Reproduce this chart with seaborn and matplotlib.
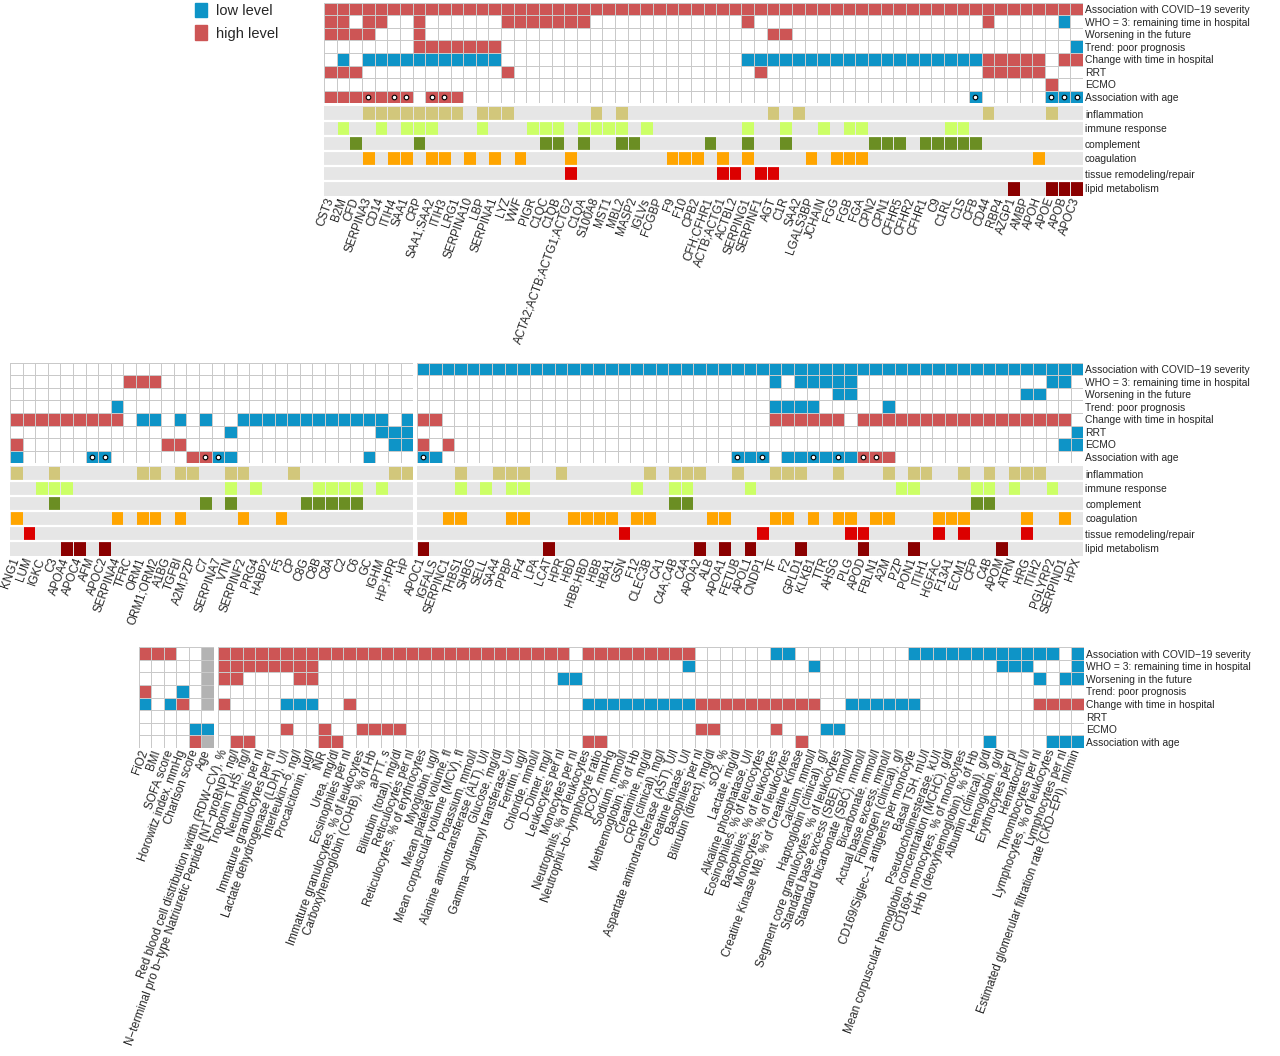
import matplotlib
matplotlib.use("Agg")
import matplotlib.pyplot as plt
import numpy as np
import pandas as pd
import seaborn as sns
from matplotlib.colors import ListedColormap
from matplotlib.patches import Patch

# colours
BLUE = "#0e94c7"
RED = "#cd5555"
NA_GREY = "#b3b3b3"
GRID = "#c9c9c9"
CAT_BG = "#e6e6e6"
CAT_COLORS = ["#d2c77b", "#ccff66", "#6b8e23", "#ffa500", "#dc0000", "#8b0000"]

ASSOC_ROWS = [
    "Association with COVID−19 severity",
    "WHO = 3: remaining time in hospital",
    "Worsening in the future",
    "Trend: poor prognosis",
    "Change with time in hospital",
    "RRT",
    "ECMO",
    "Association with age",
]
CATEGORY_ROWS = [
    "inflammation",
    "immune response",
    "complement",
    "coagulation",
    "tissue remodeling/repair",
    "lipid metabolism",
]

# cell codes: b = low level, r = high level, n = not available, . = none
CODE = {"b": -1, ".": 0, "r": 1, "n": 2}

# ---------------- panel 1 ----------------
P1_LABELS = [
    "CST3", "B2M", "CFD", "SERPINA3", "CD14", "ITIH4", "SAA1", "CRP", "SAA1;SAA2", "ITIH3",
    "LRG1", "SERPINA10", "LBP", "SERPINA1", "LYZ", "VWF", "PIGR", "C1QC", "C1QB",
    "ACTA2;ACTB;ACTG1;ACTG2", "C1QA", "S100A8", "MST1", "MBL2", "MASP2", "IGLVs", "FCGBP",
    "F9", "F10", "CPB2", "CFH;CFHR1", "ACTB;ACTG1", "ACTBL2", "SERPING1", "SERPINF1", "AGT",
    "C1R", "SAA2", "LGALS3BP", "JCHAIN", "FGG", "FGB", "FGA", "CPN2", "CPN1", "CFHR5",
    "CFHR2", "CFHR1", "C9", "C1RL", "C1S", "CFB", "CD44", "RBP4", "AZGP1", "AMBP", "APOH",
    "APOE", "APOB", "APOC3",
]
P1_ASSOC = [
    "rrrrrrrrrr" "rrrrrrrrrr" "rrrrrrrrrr" "rrrrrrrrrr" "rrrrrrrrrr" "rrrrrrrrrr",
    "rr.rr..r.." "....rrrrrr" "r........." "...r......" ".........." "..r.....b.",
    "rrrr...r.." ".........." ".........." ".....rr..." ".........." "..........",
    ".......rrr" "rrrr......" ".........." ".........." ".........." ".........b",
    ".b.bbbbbbb" "bbbb......" ".........." "...bbbbbbb" "bbbbbbbbbb" "bbrrrrr.rr",
    "rrr......." "....r....." ".........." "....r....." ".........." "..rrrrr...",
    ".........." ".........." ".........." ".........." ".........." ".......r..",
    "rrrrrrr.rr" "r........." ".........." ".........." ".........." ".b.....bbb",
]
P1_DOTS = [3, 5, 6, 8, 9, 51, 57, 58, 59]
P1_CATEGORIES = [
    [3, 4, 5, 6, 7, 8, 9, 10, 12, 13, 14, 21, 23, 35, 37, 52, 57],
    [1, 4, 6, 7, 8, 12, 16, 17, 18, 20, 21, 22, 23, 25, 33, 36, 39, 41, 42, 49, 50],
    [2, 7, 17, 18, 20, 23, 24, 30, 33, 36, 43, 44, 45, 47, 48, 49, 50, 51],
    [3, 5, 6, 8, 9, 11, 13, 15, 19, 27, 28, 29, 31, 33, 38, 40, 41, 42, 56],
    [19, 31, 32, 34, 35],
    [54, 57, 58, 59],
]

# ---------------- panel 2 ----------------
P2L_LABELS = [
    "KNG1", "LUM", "IGKC", "C3", "APOA4", "APOC4", "AFM", "APOC2", "SERPINA4", "TFRC",
    "ORM1", "ORM1;ORM2", "A1BG", "TGFBI", "A2M;PZP", "C7", "SERPINA7", "VTN", "SERPINF2",
    "PRG4", "HABP2", "F5", "CP", "C8G", "C8B", "C8A", "C2", "C6", "GC", "IGHM", "HP;HPR", "HP",
]
P2L_ASSOC = [
    ".........." ".........." ".........." "..",
    ".........r" "rr........" ".........." "..",
    ".........." ".........." ".........." "..",
    "........b." ".........." ".........." "..",
    "rrrrrrrrr." "bb.b.b..bb" "bbbbbbbbbb" ".b",
    ".........." ".......b.." ".........b" "bb",
    "r........." "..rr......" ".........." "bb",
    "b.....bb.." "....rrbb.." "........b." "..",
]
P2L_DOTS = [6, 7, 15, 16]
P2L_CATEGORIES = [
    [0, 3, 10, 11, 13, 14, 17, 18, 22, 30, 31],
    [2, 3, 4, 17, 19, 24, 25, 26, 27, 29],
    [3, 15, 17, 23, 24, 25, 26, 27],
    [0, 8, 10, 11, 13, 18, 21],
    [1],
    [4, 5, 7],
]

P2R_LABELS = [
    "APOC1", "IGFALS", "SERPINC1", "THBS1", "SHBG", "SELL", "SAA4", "PPBP", "PF4", "LPA",
    "LCAT", "HPR", "HBD", "HBB;HBD", "HBB", "HBA1", "GSN", "F12", "CLEC3B", "CA1",
    "C4A;C4B", "C4A", "APOA2", "ALB", "APOA1", "FETUB", "APOL1", "CNDP1", "TF", "F2",
    "GPLD1", "KLKB1", "TTR", "AHSG", "PLG", "APOD", "FBLN1", "A2M", "PZP", "PON1", "ITIH1",
    "HGFAC", "F13A1", "ECM1", "CFP", "C4B", "APOM", "ATRN", "HRG", "ITIH2", "PGLYRP2",
    "SERPIND1", "HPX",
]
P2R_ASSOC = [
    "bbbbbbbbbb" "bbbbbbbbbb" "bbbbbbbbbb" "bbbbbbbbbb" "bbbbbbbbbb" "bbb",
    ".........." ".........." "........b." "bbbbb....." ".........." "bb.",
    ".........." ".........." ".........." "...bb....." "........bb" "...",
    ".........." ".........." "........bb" "bb.....b.." ".........." "...",
    "rr........" ".........." "........rr" "rrrr.rrrrr" "rrrrrrrrrr" "rr.",
    ".........." ".........." ".........." ".........." ".........." "..b",
    "r.r......." ".........." ".........." ".........." ".........." ".bb",
    "bb........" ".........." ".....bbb.b" "bbbbbrrr.." ".........." "...",
]
P2R_DOTS = [0, 25, 27, 31, 33, 35, 36]
P2R_CATEGORIES = [
    [3, 6, 7, 8, 11, 18, 20, 21, 22, 25, 28, 29, 30, 33, 37, 39, 40, 43, 45, 47, 48, 49],
    [3, 5, 7, 8, 17, 20, 21, 26, 38, 39, 44, 45, 47, 50],
    [20, 21, 44, 45],
    [2, 3, 7, 8, 12, 13, 14, 15, 17, 18, 23, 24, 28, 29, 31, 33, 34, 36, 37, 41, 42, 43, 48, 51],
    [16, 27, 34, 35, 41, 43, 48],
    [0, 10, 22, 24, 26, 30, 35, 39, 46],
]

# ---------------- panel 3 ----------------
P3L_LABELS = ["FiO2", "BMI", "SOFA score", "Horowitz index, mmHg", "Charlson score", "Age"]
P3L_ASSOC = ["rrr..n", ".....n", ".....n", "r..b.n", "b.br.n", "......", "....bb", "....rn"]

P3R_LABELS = [
    "Red blood cell distribution width (RDW−CV), %",
    "N−terminal pro b−type Natriuretic Peptide (NT−proBNP), ng/l",
    "Troponin T HS, ng/l", "Neutrophils per nl", "Immature granulocytes per nl",
    "Lactate dehydrogenase (LDH), U/l", "Interleukin−6, ng/l", "Procalcitonin, µg/l", "INR",
    "Urea, mg/dl", "Eosinophiles per nl", "Immature granulocytes, % of leukocytes",
    "Carboxyhemoglobin (COHB), % of Hb", "aPTT, s", "Bilirubin (total), mg/dl",
    "Reticulocytes per nl", "Reticulocytes, % of erythrocytes", "Myoglobin, ug/l",
    "Mean platelet volume, fl", "Mean corpuscular volume (MCV), fl", "Potassium, mmol/l",
    "Alanine aminotransferase (ALT), U/l", "Glucose, mg/dl", "Gamma−glutamyl transferase, U/l",
    "Ferritin, ug/l", "Chloride, mmol/l", "D−Dimer, mg/l", "Leukocytes per nl",
    "Monocytes per nl", "Neutrophils, % of leukocytes", "Neutrophil−to−lymphocyte ratio",
    "pCO2, mmHg", "Sodium, mmol/l", "Methemoglobin, % of Hb", "Creatinine, mg/dl",
    "CRP (clinical), mg/l", "Aspartate aminotransferase (AST), U/l", "Creatine kinase, U/l",
    "Basophiles per nl", "Bilirubin (direct), mg/dl", "sO2, %", "Lactate, mg/dl",
    "Alkaline phosphatase, U/l", "Eosinophiles, % of leucocytes", "Basophiles, % of leukocytes",
    "Monocytes, % of leukocytes", "Creatine Kinase MB, % of Creatine Kinase", "Calcium, mmol/l",
    "Haptoglobin (clinical), g/l", "Segment core granulocytes, % of leukocytes",
    "Standard base excess (SBE), mmol/l", "Standard bicarbonate (SBC), mmol/l",
    "Bicarbonate, mmol/l", "Actual base excess, mmol/l", "Fibrinogen (clinical), g/l",
    "CD169/Siglec−1 antigens per monocyte", "Basal TSH, mU/l", "Pseudocholinesterase, kU/l",
    "Mean corpuscular hemoglobin concentration (MCHC), g/dl", "CD169+ monocytes, % of monocytes",
    "HHb (deoxyhemoglobin), % of Hb", "Albumin (clinical), g/dl", "Hemoglobin, g/dl",
    "Erythrocytes per pl", "Hematocrit l/l", "Thrombocytes per nl",
    "Lymphocytes, % of leukocytes", "Lymphocytes per nl",
    "Estimated glomerular filtration rate (CKD−EPI), ml/min",
]
P3R_ASSOC = [
    "rrrrrrrrrr" "rrrrrrrrrr" "rrrrrrrr.r" "rrrrrrrr.." "....bb...." ".....bbbbb" "bbbbbbb.b",
    "rrrrrrrr.." ".........." ".........." ".......b.." ".......b.." ".........." "..bbb...b",
    "rr....rr.." ".........." ".......bb." ".........." ".........." ".........." ".....b.bb",
    ".........." ".........." ".........." ".........." ".........." ".........." ".........",
    "r....bbb.." "r........." ".........b" "bbbbbbbbrr" "rrrrrrrr.." "bbbbbb...." ".....rrrr",
    ".........." ".........." ".........." ".........." ".........." ".........." ".........",
    ".....r..r." ".rrrr....." ".........." "........rr" "....r...bb" ".........." ".........",
    ".rr.....rr" ".........." ".........r" "r........." "......r..." ".........." ".b....bbb",
]

W, H = 1280, 1056
ROW_FS = 7.4
TICK_FS = 8.4

ASSOC_CMAP = ListedColormap([BLUE, "white", RED, NA_GREY])
CAT_CMAP = ListedColormap([CAT_BG] + CAT_COLORS)


def decode(rows, n):
    for row in rows:
        assert len(row) == n, (row, len(row), n)
    return np.array([[CODE[c] for c in row] for row in rows], dtype=float)


def category_matrix(members, n):
    m = np.zeros((len(CATEGORY_ROWS), n))
    for r, cols in enumerate(members):
        m[r, cols] = r + 1
    return m


def px_axes(fig, x, y, w, h):
    return fig.add_axes([x / W, 1 - (y + h) / H, w / W, h / H])


def style_ticks(ax, show_x, show_y):
    ax.tick_params(length=0, pad=1.5)
    ax.set_xlabel("")
    ax.set_ylabel("")
    if show_x:
        plt.setp(ax.get_xticklabels(), rotation=70, ha="right", va="center",
                 rotation_mode="anchor", fontsize=TICK_FS)
    if show_y:
        ax.yaxis.tick_right()
        plt.setp(ax.get_yticklabels(), rotation=0, fontsize=ROW_FS)


def draw_assoc(ax, rows, labels, dots, show_x, show_y):
    data = pd.DataFrame(decode(rows, len(labels)), index=ASSOC_ROWS, columns=labels)
    sns.heatmap(data, ax=ax, cmap=ASSOC_CMAP, vmin=-1.5, vmax=2.5, cbar=False,
                linewidths=0.5, linecolor=GRID,
                xticklabels=show_x, yticklabels=show_y)
    if dots:
        ax.scatter(np.array(dots) + 0.5, np.full(len(dots), 7.5), s=11, c="white",
                   edgecolors="black", linewidths=0.8, zorder=3)
    style_ticks(ax, show_x, show_y)


def draw_categories(ax, members, labels, show_y):
    data = pd.DataFrame(category_matrix(members, len(labels)),
                        index=CATEGORY_ROWS, columns=labels)
    sns.heatmap(data, ax=ax, cmap=CAT_CMAP, vmin=-0.5, vmax=6.5, cbar=False,
                linewidths=0.4, linecolor=CAT_BG,
                xticklabels=True, yticklabels=show_y)
    for r in range(1, len(CATEGORY_ROWS)):
        ax.axhline(r, color="white", lw=1.6)
    style_ticks(ax, True, show_y)


def main():
    sns.set_style("white")
    plt.rcParams["font.family"] = ["Liberation Sans", "DejaVu Sans"]

    fig = plt.figure(figsize=(W / 100, H / 100), dpi=100)

    # panel 1
    ax = px_axes(fig, 324, 2.7, 759, 100.6)
    draw_assoc(ax, P1_ASSOC, P1_LABELS, P1_DOTS, False, True)
    ax = px_axes(fig, 324, 106, 759, 90)
    draw_categories(ax, P1_CATEGORIES, P1_LABELS, True)

    # panel 2
    ax = px_axes(fig, 10, 362.7, 403.3, 100.6)
    draw_assoc(ax, P2L_ASSOC, P2L_LABELS, P2L_DOTS, False, False)
    ax = px_axes(fig, 10, 466, 403.3, 90)
    draw_categories(ax, P2L_CATEGORIES, P2L_LABELS, False)
    ax = px_axes(fig, 416.5, 362.7, 666.8, 100.6)
    draw_assoc(ax, P2R_ASSOC, P2R_LABELS, P2R_DOTS, False, True)
    ax = px_axes(fig, 416.5, 466, 666.8, 90)
    draw_categories(ax, P2R_CATEGORIES, P2R_LABELS, True)

    # panel 3
    ax = px_axes(fig, 138.7, 647.3, 75.3, 100.7)
    draw_assoc(ax, P3L_ASSOC, P3L_LABELS, [], True, False)
    ax = px_axes(fig, 217.7, 647.3, 865.9, 100.7)
    draw_assoc(ax, P3R_ASSOC, P3R_LABELS, [], True, True)

    handles = [Patch(color=BLUE, label="low level"), Patch(color=RED, label="high level")]
    fig.legend(handles=handles, loc="upper left", bbox_to_anchor=(192 / W, 1.0),
               frameon=False, fontsize=10.5, handlelength=0.85, handleheight=1.15,
               handletextpad=0.6, labelspacing=0.5, borderaxespad=0, borderpad=0.2)

    fig.savefig("out.png", dpi=100)
    plt.close(fig)


if __name__ == "__main__":
    main()
